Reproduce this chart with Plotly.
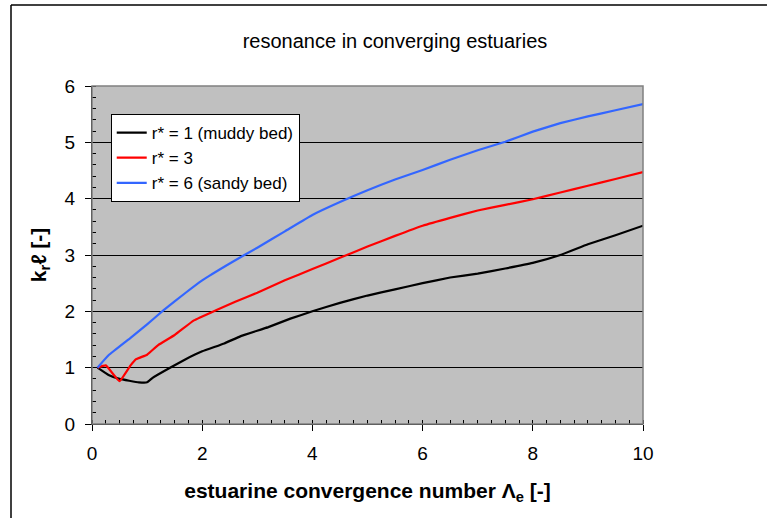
import plotly.graph_objects as go

# data
x_r1 = [0.1, 0.3, 0.5, 0.85, 1.0, 1.1, 1.4, 1.7, 2.0, 2.4, 2.7, 3.2, 3.6, 4.0, 4.5, 5.0, 5.5, 6.0, 6.5, 7.0, 7.5, 8.0, 8.5, 9.0, 9.5, 10.0]
y_r1 = [1.0, 0.87, 0.80, 0.74, 0.74, 0.82, 0.99, 1.15, 1.29, 1.43, 1.56, 1.72, 1.87, 2.0, 2.15, 2.28, 2.39, 2.50, 2.60, 2.67, 2.76, 2.86, 3.0, 3.19, 3.35, 3.52]

x_r3 = [0.1, 0.25, 0.5, 0.7, 0.8, 1.0, 1.2, 1.5, 1.85, 2.25, 2.6, 3.0, 3.5, 4.0, 4.5, 5.0, 5.5, 6.0, 6.5, 7.0, 7.5, 8.0, 8.5, 9.0, 9.5, 10.0]
y_r3 = [1.0, 1.04, 0.76, 1.04, 1.15, 1.23, 1.40, 1.58, 1.84, 2.02, 2.17, 2.33, 2.55, 2.75, 2.95, 3.15, 3.34, 3.52, 3.66, 3.79, 3.89, 3.99, 4.11, 4.23, 4.35, 4.47]

x_r6 = [0.1, 0.3, 0.7, 1.0, 1.3, 1.7, 2.0, 2.5, 3.0, 3.5, 4.0, 4.5, 5.0, 5.5, 6.0, 6.5, 7.0, 7.5, 8.0, 8.5, 9.0, 9.5, 10.0]
y_r6 = [1.0, 1.22, 1.53, 1.77, 2.02, 2.33, 2.55, 2.85, 3.13, 3.42, 3.71, 3.94, 4.15, 4.34, 4.51, 4.69, 4.86, 5.01, 5.19, 5.34, 5.46, 5.57, 5.68]

names = ["r* = 1 (muddy bed)", "r* = 3", "r* = 6 (sandy bed)"]
colors = ["#000000", "#ff0000", "#3366ff"]

FONT = "Liberation Sans, Arial, sans-serif"

fig = go.Figure()
for xs, ys, nm, c in zip([x_r1, x_r3, x_r6], [y_r1, y_r3, y_r6], names, colors):
    fig.add_trace(go.Scatter(x=xs, y=ys, mode="lines", name=nm,
                             line=dict(color=c, width=2.2, shape="spline", smoothing=0.3)))

fig.update_layout(
    width=767, height=518,
    margin=dict(l=92, r=124, t=86, b=94),
    paper_bgcolor="white", plot_bgcolor="#c0c0c0",
    font=dict(family=FONT, color="black", size=19),
    title=dict(text="resonance in converging estuaries", x=0.515, xanchor="center",
               y=0.921, yanchor="middle", font=dict(size=20, family=FONT)),
    showlegend=True,
    legend=dict(x=0.034, y=0.917, xanchor="left", yanchor="top",
                bgcolor="white", bordercolor="black", borderwidth=1,
                font=dict(size=17, family=FONT), itemwidth=30,
                tracegroupgap=0, traceorder="normal"),
    xaxis=dict(range=[0, 10], dtick=2, tick0=0, showgrid=False, zeroline=False,
               showline=True, linecolor="black", linewidth=1,
               ticks="outside", ticklen=6, tickcolor="black", ticklabelstandoff=6,
               minor=dict(dtick=0.25, ticks="inside", ticklen=4, tickcolor="black", showgrid=False),
               tickfont=dict(size=19),
               title=dict(text="<b>estuarine convergence number Λ<sub>e</sub> [-]</b>",
                          font=dict(size=21), standoff=20)),
    yaxis=dict(range=[0, 6], dtick=1, tick0=0, showgrid=True, gridcolor="#000000", gridwidth=1,
               zeroline=False, showline=True, linecolor="black", linewidth=1,
               ticks="outside", ticklen=6, tickcolor="black", ticklabelstandoff=6,
               minor=dict(dtick=0.2, ticks="inside", ticklen=4, tickcolor="black", showgrid=False),
               tickfont=dict(size=19),
               title=dict(text="<b>k<sub>r</sub>ℓ [-]</b>", font=dict(size=21), standoff=12)),
)

# plot area gray border (top/right)
fig.add_shape(type="rect", xref="paper", yref="paper", x0=0, y0=0, x1=1, y1=1,
              line=dict(color="#808080", width=1.5), layer="above")
# outer chart frame (left and top edges visible)
fig.add_shape(type="line", xref="paper", yref="paper", x0=-0.147, x1=-0.147, y0=-0.3, y1=1.2396,
              line=dict(color="black", width=1.5))
fig.add_shape(type="line", xref="paper", yref="paper", x0=-0.147, x1=1.225, y0=1.2396, y1=1.2396,
              line=dict(color="black", width=1.5))

fig.write_html("out.html")
